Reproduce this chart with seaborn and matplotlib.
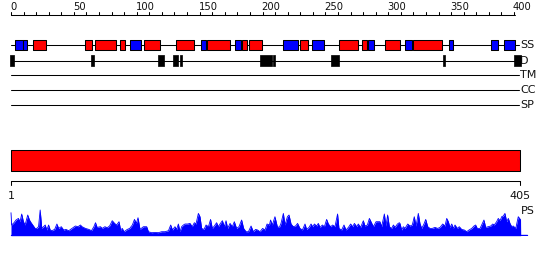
import matplotlib
matplotlib.use("Agg")
import matplotlib.pyplot as plt
import seaborn as sns
import numpy as np
import pandas as pd

# ---------------- data ----------------
seq_len = 405
ruler_ticks = list(range(0, 401, 10))
ruler_labels = {0: "0", 50: "50", 100: "100", 150: "150", 200: "200",
                250: "250", 300: "300", 350: "350", 400: "400"}

ss_type = ["E", "E", "H", "H", "H", "H", "E", "H", "H", "E", "H", "E", "H",
           "H", "E", "H", "E", "H", "H", "E", "H", "E", "H", "E", "E", "E"]
ss_start = [3.2, 9.8, 17.7, 59.1, 67.0, 86.7, 94.6, 106.0, 131.2, 151.1, 155.9, 178.1, 184.0,
            189.5, 216.5, 230.0, 239.6, 261.1, 279.1, 284.1, 297.4, 313.3, 319.4, 348.3, 381.7, 392.3]
ss_end = [9.3, 12.5, 27.6, 64.2, 83.3, 90.4, 103.1, 118.2, 145.3, 155.1, 173.9, 182.7, 187.4,
          199.4, 228.5, 236.4, 248.7, 275.7, 282.9, 288.4, 309.1, 319.1, 342.5, 351.3, 387.0, 400.8]

d_start = [-0.8, 63.6, 116.9, 128.8, 134.0, 198.0, 208.6, 254.5, 343.5, 400.2]
d_end = [2.1, 66.0, 121.7, 132.8, 135.7, 207.6, 209.7, 261.1, 344.9, 405.3]

track_labels = ["SS", "D", "TM", "CC", "SP"]

domain_start = [0]
domain_end = [405]
bottom_labels = ["1", "405"]

ps_pos = [0, 0.5, 2.4, 4, 5.9, 7.2, 8.5, 9.9, 11.2, 13.3, 14.7, 16, 17.9, 19.2, 20.5, 21.9,
          23.2, 24.5, 25.9, 27.2, 28.5, 29.9, 31.2, 32.5, 34.7, 36.5, 37.9, 40, 41.9, 43.7,
          45.9, 48.5, 51.2, 53.3, 55.2, 56.5, 59.2, 61.9, 64, 65.9, 67.2, 68.5, 71.2, 72.5,
          74.7, 76.5, 78.4, 80.5, 82.4, 84, 85.9, 87.2, 88.5, 89.9, 92.5, 94.4, 96.5, 98.2,
          99.7, 101, 102.6, 105.3, 107.9, 109.3, 111.8, 114.5, 117.2, 119.8, 122.5, 125.2,
          127, 128.4, 130.4, 131.7, 133.1, 134.4, 135.7, 137.1, 138.4, 140.5, 142.4, 144.1,
          145.8, 147.1, 149, 150.3, 151.6, 153.5, 155.1, 157, 158.7, 160.1, 161.7, 163.5,
          164.9, 166.2, 168.1, 169.7, 171, 172.3, 174.2, 176, 177.6, 179.4, 181.3, 183.4,
          185, 186.9, 188.8, 190.9, 192.7, 194.5, 196.1, 198, 200.1, 202, 203.6, 205.5,
          206.4, 207.8, 209.9, 211.8, 213.4, 214.7, 216.6, 217.9, 219.8, 221.1, 222.7,
          224.5, 226.3, 227.9, 229.8, 231.7, 233.8, 235.1, 237, 238.6, 239.9, 241.3, 243,
          244.4, 245.7, 247.6, 249.2, 251, 252.4, 254.2, 255.8, 257.6, 259.7, 260.8, 262.9,
          264.8, 266.4, 268.3, 270.1, 271.7, 273.1, 274.9, 276.2, 278, 280.2, 281.5, 283.4,
          285, 286.3, 288.2, 290.3, 292.1, 293.4, 294.7, 296.9, 298.2, 299.5, 300.9, 302.7,
          304.1, 305.4, 307.3, 308.8, 309.3, 310.7, 312, 313.3, 315.5, 317.3, 319.1, 320.7,
          322.1, 323.9, 325.2, 326.6, 328.4, 329.8, 331.4, 333.2, 335, 337.2, 339.3, 341.2,
          343.3, 345.1, 346.5, 347.8, 349.1, 350.5, 351.7, 353.1, 354.9, 356.5, 358.4,
          360.5, 362.4, 364.2, 366.4, 368.2, 369.5, 370.8, 373, 374.8, 376.1, 377.5, 379.6,
          381.5, 383.1, 384.3, 386.2, 387.5, 388.9, 390.2, 391.5, 392.8, 394.2, 395.5,
          396.8, 398.2, 399.4, 401.4, 403.4, 405.2, 405.3]
ps_val = [23, 10.7, 13, 15.7, 17.3, 14, 21.7, 14, 10.7, 20.7, 15.7, 13, 9.7, 7.3, 7.3, 9,
          25.7, 7.3, 9, 10.7, 5.7, 10.7, 5.7, 5, 6.3, 11.7, 7.3, 9, 5.7, 6.3,
          5, 7.3, 9.7, 9, 10.7, 9, 7.3, 6.3, 5, 9, 13, 8.3, 9, 7.3,
          9, 8, 9.7, 15, 12.3, 10.7, 14, 5.7, 7.3, 4, 6.3, 7.3, 10.7, 16.3,
          12.3, 18, 6.3, 9, 9, 4, 3, 3.3, 3, 4, 4, 5,
          10.7, 5.7, 9, 6.3, 11.7, 4, 9, 10.7, 11.7, 11.7, 12.3, 9,
          13, 11.7, 22.3, 19, 7.3, 6.3, 10.7, 9, 16.3, 7.3, 9.7, 13,
          9, 11.7, 15, 9, 15, 7.3, 12.3, 9, 14, 7.3, 9, 15.7,
          7.3, 4, 4, 9.7, 4, 6.3, 5.7, 4, 7.3, 5.7, 11.7, 10.7,
          15.7, 10.7, 19, 9, 8.3, 12.3, 22.3, 10.7, 19, 20.7, 11.7,
          9, 9.7, 12.3, 7.3, 5.7, 11.7, 6.3, 8.3, 11.7, 9, 11.7, 9.7,
          12.3, 8.3, 10.7, 9, 16.3, 11.7, 9, 10.7, 9, 21.7, 7.3, 5.7,
          10.7, 5.7, 8.3, 11.7, 9, 12.3, 9, 11.7, 8.3, 15, 9.7, 10.7,
          17.3, 14, 9, 14, 14, 14, 9, 21.7, 9.7, 20.7, 9, 7.3,
          10.7, 8.3, 11.7, 13, 12.3, 5.7, 9, 7.3, 11.7, 9.7, 10.7, 19,
          9.7, 22.3, 12.3, 7.3, 11.7, 16.3, 9, 7.3, 7.3, 8.3, 7.3, 8.3,
          11.7, 9.7, 17.3, 14, 8.3, 11.7, 7.3, 10.7, 7.3, 9, 6.3,
          5.7, 4, 5.7, 7.3, 9.7, 10.7, 7.3, 7.3, 12.3, 15.7, 8.3, 9,
          9.7, 11.7, 10.7, 14, 17.3, 15, 19, 19.7, 22.3, 14, 17.3,
          12.3, 9, 9.7, 7.3, 19, 16, 0]

# ---------------- figure ----------------
sns.set_theme(style="white")
plt.rcParams["font.family"] = ["DejaVu Sans"]

W, H = 550, 260
fig = plt.figure(figsize=(W / 100, H / 100), dpi=100)
fig.patch.set_facecolor("white")

px_per_res = 1.2575
x0_px = 11
xlim = (-x0_px / px_per_res, (W - x0_px) / px_per_res)

ax = fig.add_axes([0, 0, 1, 1])
ax.set_xlim(*xlim)
ax.set_ylim(H, 0)
ax.axis("off")

LW = 0.75
TXT = "#111111"

# top ruler
ruler_y = 15
ax.plot([0, 401], [ruler_y, ruler_y], color="black", lw=LW)
for t in ruler_ticks:
    ax.plot([t, t], [ruler_y, ruler_y - 3], color="black", lw=LW)
    if t in ruler_labels:
        ax.text(t - 0.8, 10.5, ruler_labels[t], ha="left", va="baseline",
                fontsize=7.2, color=TXT)

# tracks
track_y = [45, 61, 75, 90, 105]
for lab, y in zip(track_labels, track_y):
    ax.plot([0, 404], [y, y], color="black", lw=LW, zorder=1)
    ax.text(404.8, y + 0.3, lab, ha="left", va="center", fontsize=8, color=TXT)

ss_df = pd.DataFrame({"type": ss_type, "start": ss_start, "end": ss_end})
ss_colors = {"H": "#ff0000", "E": "#0000ff"}
for t, grp in ss_df.groupby("type"):
    ax.broken_barh(list(zip(grp["start"], grp["end"] - grp["start"])), (40, 10.3),
                   facecolors=ss_colors[t], edgecolors="black", linewidth=LW, zorder=3)

d_df = pd.DataFrame({"start": d_start, "end": d_end})
ax.broken_barh(list(zip(d_df["start"], d_df["end"] - d_df["start"])), (55.3, 10.7),
               facecolors="black", edgecolors="black", linewidth=0.5, zorder=3)

# domain bar
ax.broken_barh(list(zip(domain_start, np.array(domain_end) - np.array(domain_start))),
               (150, 21), facecolors="#ff0000", edgecolors="black", linewidth=LW)

# bottom ruler
by = 180.7
ax.plot([0, seq_len], [by, by], color="black", lw=LW)
for xpos, lab in zip([0, seq_len], bottom_labels):
    ax.plot([xpos, xpos], [by, by + 4], color="black", lw=LW)
    ax.text(xpos, 196, lab, ha="center", va="center", fontsize=8, color=TXT)

ax.text(405.6, 211, "PS", ha="left", va="center", fontsize=8, color=TXT)

# PS profile axes
base_px = 235.7
ps_h = 30
ax_ps = fig.add_axes([0, (H - base_px) / H, 1, ps_h / H])
ax_ps.set_xlim(*xlim)
ax_ps.set_ylim(0, ps_h)
ax_ps.axis("off")
ax_ps.patch.set_alpha(0)
ps_df = pd.DataFrame({"pos": ps_pos, "val": ps_val})
ax_ps.fill_between(ps_df["pos"], 0, ps_df["val"], color="#0000ff", lw=0)
sns.lineplot(data=ps_df, x="pos", y="val", ax=ax_ps, color="#0000ff", lw=0.6)
ax_ps.plot([0, seq_len + 5], [0.3, 0.3], color="#0000ff", lw=1)
ax_ps.set_xlim(*xlim)
ax_ps.set_ylim(0, ps_h)

fig.savefig("out.png", dpi=100, facecolor="white")
